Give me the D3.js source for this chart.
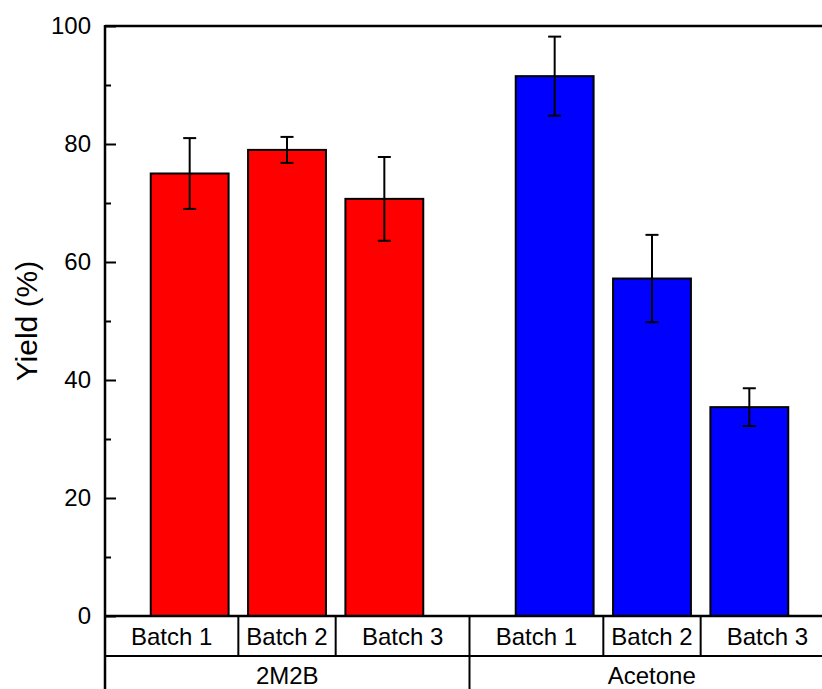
<!DOCTYPE html>
<html>
<head>
<meta charset="utf-8">
<script src="https://cdn.jsdelivr.net/npm/d3@7"></script>
<style>
  html, body { margin: 0; padding: 0; background: #fff; }
  svg { display: block; }
  text { font-family: Arial, "Liberation Sans", sans-serif; fill: #000; }
</style>
</head>
<body>
<svg id="chart" width="822" height="689"></svg>
<script>
// ---- data ----
const solvents = ["2M2B", "Acetone"];
const batches = ["Batch 1", "Batch 2", "Batch 3"];
const yields2M2B = [75.0, 79.0, 70.7];
const err2M2B = [6.0, 2.2, 7.1];
const yieldsAcetone = [91.5, 57.2, 35.4];
const errAcetone = [6.7, 7.4, 3.2];
const solventColors = ["#ff0000", "#0000ff"];
const yTicks = [0, 20, 40, 60, 80, 100];
const yMinorTicks = [10, 30, 50, 70, 90];

(function () {
// ---- layout ----
const svg = d3.select("#chart");
const pLeft = 105, pTop = 26, pBottom = 616, pRight = 834;
const groupGap = 0.75;      // extra slot between groups
const bandPad = 0.87;       // half-slot padding at ends
const barW = 0.8;
const fs = 24;

const series = [
  { solvent: solvents[0], vals: yields2M2B, errs: err2M2B, color: solventColors[0] },
  { solvent: solvents[1], vals: yieldsAcetone, errs: errAcetone, color: solventColors[1] }
];
const bars = [];
series.forEach((s, g) => {
  s.vals.forEach((v, i) => {
    bars.push({ solvent: s.solvent, batch: batches[i], value: v, err: s.errs[i], color: s.color,
                pos: g * (batches.length + groupGap) + i + 1 });
  });
});
const lastPos = bars[bars.length - 1].pos;

const x = d3.scaleLinear().domain([1 - bandPad, lastPos + bandPad]).range([pLeft, pRight]);
const y = d3.scaleLinear().domain([0, 100]).range([pBottom, pTop]);

// bars
svg.append("g").selectAll("rect").data(bars).join("rect")
  .attr("x", d => x(d.pos - barW / 2))
  .attr("width", d => x(d.pos + barW / 2) - x(d.pos - barW / 2))
  .attr("y", d => y(d.value))
  .attr("height", d => y(0) - y(d.value))
  .attr("fill", d => d.color)
  .attr("stroke", "#000")
  .attr("stroke-width", 2);

// error bars
const eb = svg.append("g").attr("stroke", "#000").attr("stroke-width", 2);
bars.forEach(d => {
  const cx = x(d.pos);
  eb.append("line").attr("x1", cx).attr("x2", cx).attr("y1", y(d.value + d.err)).attr("y2", y(d.value - d.err));
  [d.value + d.err, d.value - d.err].forEach(v => {
    eb.append("line").attr("x1", cx - 6.5).attr("x2", cx + 6.5).attr("y1", y(v)).attr("y2", y(v));
  });
});

// y axis (ticks inward)
const yAxis = d3.axisRight(y).tickValues(yTicks).tickSize(11).tickFormat("");
const gy = svg.append("g").attr("transform", `translate(${pLeft},0)`).call(yAxis);
gy.select(".domain").remove();
gy.selectAll(".tick line").attr("stroke", "#000").attr("stroke-width", 2);
const yMinor = d3.axisRight(y).tickValues(yMinorTicks).tickSize(6).tickFormat("");
const gym = svg.append("g").attr("transform", `translate(${pLeft},0)`).call(yMinor);
gym.select(".domain").remove();
gym.selectAll(".tick line").attr("stroke", "#000").attr("stroke-width", 2);

// tick labels
svg.append("g").selectAll("text").data(yTicks).join("text")
  .attr("x", pLeft - 14)
  .attr("y", d => y(d))
  .attr("dy", "0.35em")
  .attr("text-anchor", "end")
  .attr("font-size", fs)
  .text(d => d);

// frame lines
svg.append("line").attr("x1", pLeft).attr("x2", 822).attr("y1", pTop).attr("y2", pTop)
  .attr("stroke", "#000").attr("stroke-width", 2.5);
svg.append("line").attr("x1", pLeft).attr("x2", pLeft).attr("y1", pTop - 1).attr("y2", 689)
  .attr("stroke", "#000").attr("stroke-width", 2.5);
svg.append("line").attr("x1", pLeft).attr("x2", 822).attr("y1", pBottom).attr("y2", pBottom)
  .attr("stroke", "#000").attr("stroke-width", 2.5);

// category table
const row1Bottom = 656;
svg.append("line").attr("x1", pLeft).attr("x2", 822).attr("y1", row1Bottom).attr("y2", row1Bottom)
  .attr("stroke", "#000").attr("stroke-width", 2);

const cellEdges = [];
for (let i = 0; i < bars.length; i++) {
  const l = i === 0 ? x.domain()[0] : (bars[i - 1].pos + bars[i].pos) / 2;
  const r = i === bars.length - 1 ? x.domain()[1] : (bars[i].pos + bars[i + 1].pos) / 2;
  cellEdges.push({ l, r, label: bars[i].batch });
}
cellEdges.forEach((c, i) => {
  if (i > 0) {
    svg.append("line").attr("x1", x(c.l)).attr("x2", x(c.l)).attr("y1", pBottom).attr("y2", row1Bottom)
      .attr("stroke", "#000").attr("stroke-width", 2);
  }
  svg.append("text").attr("x", (x(c.l) + x(c.r)) / 2).attr("y", 645)
    .attr("text-anchor", "middle").attr("font-size", fs).text(c.label);
});

// group row
const nb = batches.length;
solvents.forEach((s, g) => {
  const l = cellEdges[g * nb].l, r = cellEdges[g * nb + nb - 1].r;
  if (g > 0) {
    svg.append("line").attr("x1", x(l)).attr("x2", x(l)).attr("y1", row1Bottom).attr("y2", 689)
      .attr("stroke", "#000").attr("stroke-width", 2);
  }
  svg.append("text").attr("x", (x(l) + x(r)) / 2).attr("y", 684)
    .attr("text-anchor", "middle").attr("font-size", fs).text(s);
});

// y title
svg.append("text")
  .attr("transform", `translate(37,${(pTop + pBottom) / 2}) rotate(-90)`)
  .attr("text-anchor", "middle")
  .attr("font-size", 30)
  .text("Yield (%)");
})();
</script>
</body>
</html>
